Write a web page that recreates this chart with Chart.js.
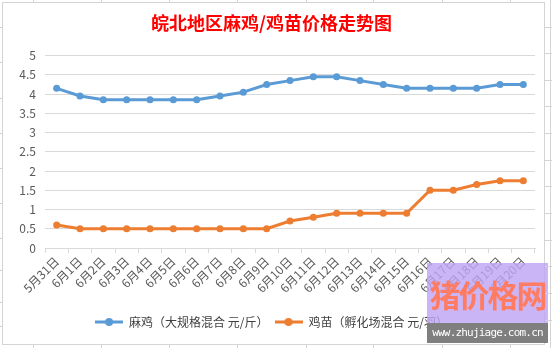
<!DOCTYPE html>
<html>
<head>
<meta charset="utf-8">
<script src="https://cdn.jsdelivr.net/npm/chart.js@4"></script>
<style>
  html, body { margin: 0; padding: 0; background: #fff; }
  #wrap { position: relative; width: 552px; height: 348px; overflow: hidden; }
  #frame { position: absolute; left: 2px; top: 2px; width: 541px; height: 341px; border: 1px solid #d4d4d4; background: #fff; }
  .stub { position: absolute; background: #d4d4d4; }
  #chart { position: absolute; left: 0; top: 0; }
  #mark { position: absolute; left: 427px; top: 263px; width: 121px; height: 80px; background: rgba(190, 165, 245, 0.82); }
  #mark .big { position: absolute; left: 0; top: 12px; width: 121px; text-align: center; white-space: nowrap; font: bold 31px "Noto Sans CJK SC", sans-serif; line-height: 38px; color: #ff7c62; letter-spacing: -2px; }
  #mark .url { position: absolute; left: 0; bottom: 0; width: 121px; height: 20px; background: #7f7f7f; color: #fff; white-space: nowrap; font: 11px "DejaVu Sans Mono", monospace; line-height: 20px; text-align: center; letter-spacing: -0.8px; }
</style>
</head>
<body>
<div id="wrap">
  <div id="frame"></div>
  <canvas id="chart" width="552" height="348"></canvas>
  <div id="mark"><div class="big">猪价格网</div><div class="url">www.zhujiage.com.cn</div></div>
</div>
<script>
const dates = ['5月31日', '6月1日', '6月2日', '6月3日', '6月4日', '6月5日', '6月6日', '6月7日', '6月8日', '6月9日', '6月10日',
    '6月11日', '6月12日', '6月13日', '6月14日', '6月15日', '6月16日', '6月17日', '6月18日', '6月19日', '6月20日'];
const maJi = [4.15, 3.95, 3.85, 3.85, 3.85, 3.85, 3.85, 3.95, 4.05, 4.25, 4.35, 4.45, 4.45, 4.35, 4.25, 4.15, 4.15, 4.15, 4.15, 4.25, 4.25];
const jiMiao = [0.6, 0.5, 0.5, 0.5, 0.5, 0.5, 0.5, 0.5, 0.5, 0.5, 0.7, 0.8, 0.9, 0.9, 0.9, 0.9, 1.5, 1.5, 1.65, 1.75, 1.75];
const yTicks = [0, 0.5, 1, 1.5, 2, 2.5, 3, 3.5, 4, 4.5, 5];

// spreadsheet cell borders peeking out around the chart frame
const wrap = document.getElementById('wrap');
const stub = css => {
    const d = document.createElement('div');
    d.className = 'stub';
    d.style.cssText = css;
    wrap.appendChild(d);
};
[33, 101, 169, 237, 306, 373, 442, 510].forEach(x => {
    stub(`left:${x}px;top:0px;width:1px;height:3px`);
    stub(`left:${x}px;top:345px;width:1px;height:3px`);
});
[27, 62, 98, 133, 168, 203, 238, 270, 302, 326].forEach(y => stub(`left:0px;top:${y}px;width:3px;height:1px`));
[27, 53, 80, 106, 133, 160, 186, 213, 240, 266, 293, 320].forEach(y => stub(`left:545px;top:${y}px;width:7px;height:1px`));
stub('left:550px;top:0;width:1px;height:348px');

const legendIcon = color => {
    const c = document.createElement('canvas');
    c.width = 28; c.height = 10;
    const g = c.getContext('2d');
    g.strokeStyle = color; g.lineWidth = 3;
    g.beginPath(); g.moveTo(0, 5); g.lineTo(28, 5); g.stroke();
    g.fillStyle = color;
    g.beginPath(); g.arc(14, 5, 4, 0, Math.PI * 2); g.fill();
    return c;
};

const font = '"Noto Sans CJK SC", "Noto Sans", sans-serif';
const blue = '#5b9bd5';
const orange = '#ed7d31';

new Chart(document.getElementById('chart'), {
    type: 'line',
    data: {
        labels: dates,
        datasets: [
            { label: '麻鸡（大规格混合 元/斤）', data: maJi, borderColor: blue, backgroundColor: blue,
              borderWidth: 3, pointRadius: 3.5, pointBackgroundColor: blue, pointBorderWidth: 0, tension: 0 },
            { label: '鸡苗（孵化场混合 元/羽）', data: jiMiao, borderColor: orange, backgroundColor: orange,
              borderWidth: 3, pointRadius: 3.5, pointBackgroundColor: orange, pointBorderWidth: 0, tension: 0 }
        ]
    },
    options: {
        responsive: false,
        animation: false,
        layout: { padding: { left: 8, right: 17, top: 12, bottom: 10 } },
        plugins: {
            title: {
                display: true,
                text: '皖北地区麻鸡/鸡苗价格走势图',
                color: '#ff0000',
                font: { family: font, size: 18, weight: 'bold' },
                padding: { top: 0, bottom: 22 }
            },
            legend: {
                position: 'bottom',
                labels: {
                    color: '#404040',
                    font: { family: font, size: 12 },
                    usePointStyle: true,
                    pointStyleWidth: 28,
                    padding: 6,
                    generateLabels: chart => chart.data.datasets.map((ds, i) => ({
                        text: ds.label,
                        pointStyle: legendIcon(ds.borderColor),
                        fillStyle: ds.borderColor,
                        strokeStyle: ds.borderColor,
                        lineWidth: 0,
                        fontColor: '#404040',
                        datasetIndex: i
                    }))
                }
            },
            tooltip: { enabled: false }
        },
        scales: {
            x: {
                offset: true,
                grid: { display: true, drawOnChartArea: false, drawTicks: true, tickLength: 5, color: '#d9d9d9', offset: true },
                border: { color: '#d9d9d9' },
                ticks: { color: '#595959', font: { family: font, size: 12 }, minRotation: 45, maxRotation: 45, padding: 1, autoSkip: false },
                afterFit: s => { s.height = 62; }
            },
            y: {
                min: 0, max: 5,
                afterBuildTicks: s => { s.ticks = yTicks.map(v => ({ value: v })); },
                grid: { color: '#d9d9d9', drawTicks: false },
                border: { display: false },
                ticks: { color: '#595959', font: { family: font, size: 12 }, padding: 9, callback: v => String(v) },
                afterFit: s => { s.width = 37; }
            }
        }
    }
});
</script>
</body>
</html>
